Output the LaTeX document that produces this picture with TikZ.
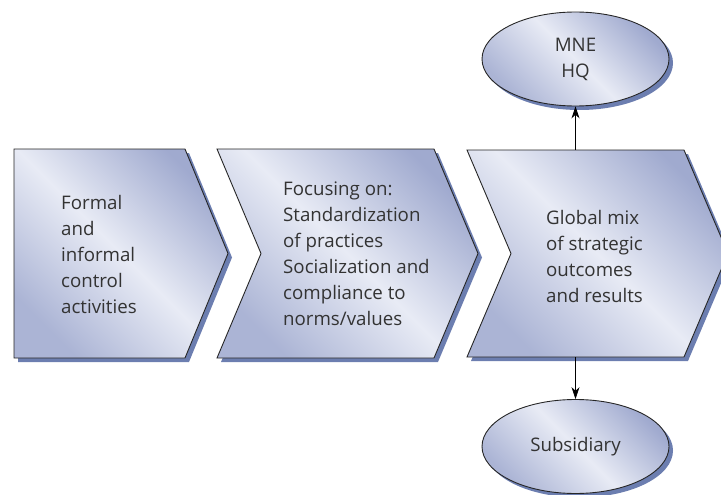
\documentclass[tikz,border=0pt]{standalone}
\usepackage{fontspec}
\setmainfont{Open Sans}
\usetikzlibrary{arrows.meta,shapes.geometric}
\definecolor{cdark}{HTML}{A0AACF}
\definecolor{clight}{HTML}{E8EBF5}
\definecolor{cshadow}{HTML}{6C7EB0}
\definecolor{ctext}{HTML}{333333}
\tikzset{
  shapefill/.style={top color=cdark, bottom color=cdark!85!clight, middle color=clight, shading angle=-45},
  outline/.style={draw=black!85, line width=0.9pt},
  shadowfill/.style={fill=cshadow},
  boxtext/.style={text=ctext, font=\fontsize{18.7}{26}\selectfont, align=left, inner sep=0pt, anchor=west},
  conn/.style={-{Stealth[length=12pt,width=8pt]}, line width=0.8pt, black},
  oval/.style={ellipse, minimum width=187pt, minimum height=94pt, inner sep=0pt, outline, shapefill,
    text=ctext, font=\fontsize{18.7}{26}\selectfont, align=center},
  ovalshadow/.style={ellipse, minimum width=187pt, minimum height=94pt, inner sep=0pt, shadowfill},
  area/.style={inner sep=0pt, minimum width=217pt, minimum height=207pt}
}
\begin{document}
\begin{tikzpicture}[x=1pt, y=-1pt]
\useasboundingbox (0,0) rectangle (721,495);
% shadows
\begin{scope}[shift={(4,4)}]
  \fill[cshadow] (14,149) -- (185,149) -- (228,253.5) -- (185,358) -- (14,358) -- cycle;
  \fill[cshadow] (217,149) -- (434,149) -- (478,253.5) -- (434,358) -- (217,358) -- (261,253.5) -- cycle;
  \fill[cshadow] (467,150) -- (684,150) -- (728,253.5) -- (684,357) -- (467,357) -- (511,253.5) -- cycle;
  \node[ovalshadow] at (575.5,59) {};
  \node[ovalshadow] at (575.5,446.5) {};
\end{scope}
% chevrons
\path[shapefill, outline] (14,149) -- (185,149) -- (228,253.5) -- (185,358) -- (14,358) -- cycle;
\path[shapefill, outline] (217,149) -- (434,149) -- (478,253.5) -- (434,358) -- (217,358) -- (261,253.5) -- cycle;
\path[shapefill, outline] (467,150) -- (684,150) -- (728,253.5) -- (684,357) -- (467,357) -- (511,253.5) -- cycle;
\node[area] (box3) at (575.5,253.5) {};
% texts
\node[boxtext] (t1) at (61,254) {Formal\\and\\informal\\control\\activities};
\node[boxtext] (t2) at (283,254) {Focusing on:\\Standardization\\of practices\\Socialization and\\compliance to\\norms/values};
\node[boxtext] (t3) at (546,256) {Global mix\\of strategic\\outcomes\\and results};
% ovals
\node[oval] (hq) at (575.5,59) {MNE\\HQ};
\node[oval] (sub) at (575.5,446.5) {Subsidiary};
% connectors
\draw[conn] (box3.north) -- (hq.south);
\draw[conn] (box3.south) -- (sub.north);
\end{tikzpicture}
\end{document}
